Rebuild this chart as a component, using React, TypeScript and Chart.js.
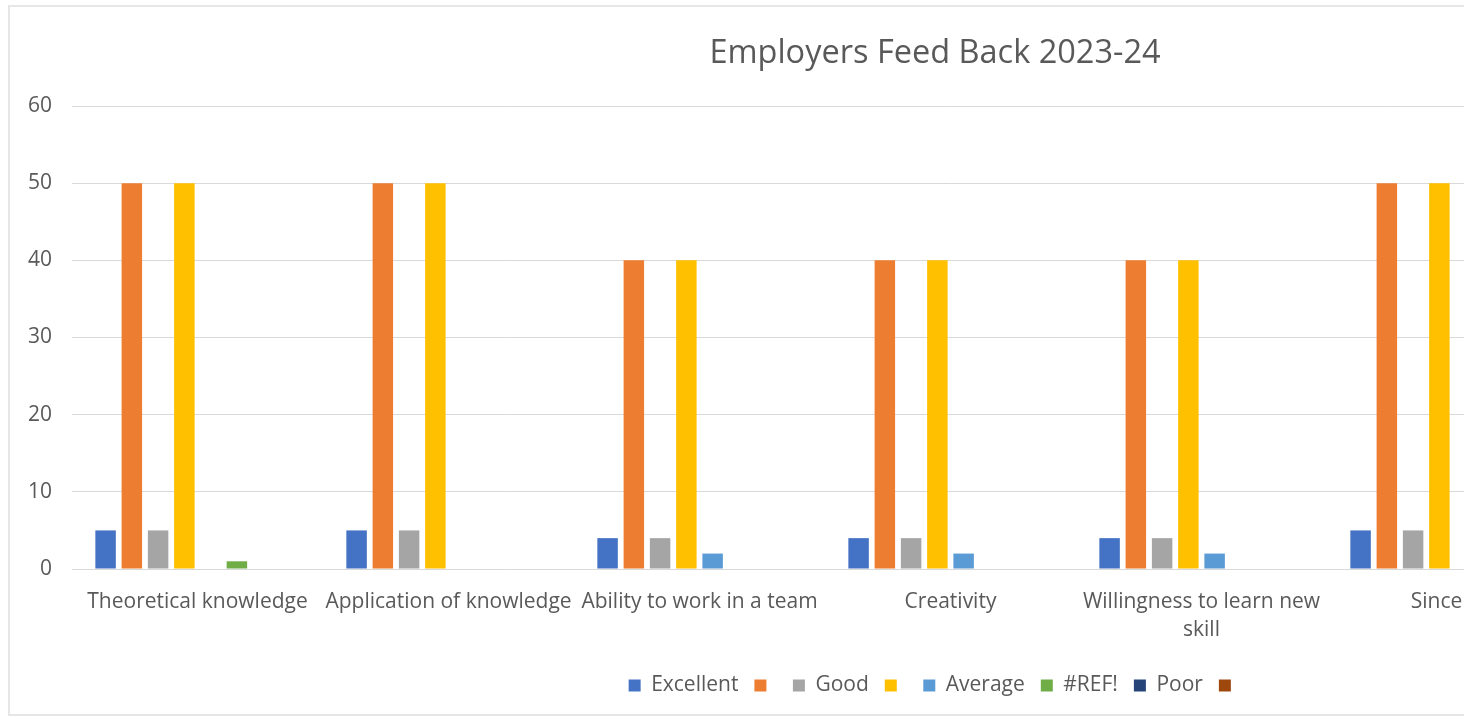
import React, { useEffect, useRef } from "react";
import { Chart, registerables } from "chart.js";

Chart.register(...registerables);

// ---- Data ----
const categories: (string | string[])[] = [
  "Theoretical knowledge",
  "Application of knowledge",
  "Ability to work in a team",
  "Creativity",
  ["Willingness to learn new", "skill"],
  "Sincerity",
  "Punctuality",
];

const seriesNames = ["Excellent", "", "Good", "", "Average", "#REF!", "Poor", ""];

const excellent = [5, 5, 4, 4, 4, 5, 5];
const seriesOrange = [50, 50, 40, 40, 40, 50, 50];
const good = [5, 5, 4, 4, 4, 5, 5];
const seriesYellow = [50, 50, 40, 40, 40, 50, 50];
const average = [0, 0, 2, 2, 2, 0, 0];
const refError = [1, 0, 0, 0, 0, 0, 0];
const poor = [0, 0, 0, 0, 0, 0, 0];
const seriesBrown = [0, 0, 0, 0, 0, 0, 0];

const yAxisMin = 0;
const yAxisMax = 60;
const yAxisStep = 10;

const chartTitle = "Employers Feed Back 2023-24";

// ---- Styles ----
const FONT = "'Open Sans', 'Noto Sans', sans-serif";
const TEXT = "#595959";
const COLORS = ["#4472C4", "#ED7D31", "#A5A5A5", "#FFC000", "#5B9BD5", "#70AD47", "#264478", "#9E480E"];

export default function App() {
  const ref = useRef<HTMLCanvasElement | null>(null);

  useEffect(() => {
    if (!ref.current) return;
    const values = [excellent, seriesOrange, good, seriesYellow, average, refError, poor, seriesBrown];
    const chart = new Chart(ref.current, {
      type: "bar",
      data: {
        labels: categories,
        datasets: values.map((v, i) => ({
          label: seriesNames[i],
          data: v,
          backgroundColor: COLORS[i],
          borderWidth: 0,
          categoryPercentage: 0.837,
          barPercentage: 0.78,
        })),
      },
      options: {
        responsive: false,
        animation: false,
        layout: { padding: { left: 31, right: 31, top: 0, bottom: 8 } },
        plugins: {
          title: {
            display: true,
            text: chartTitle,
            color: TEXT,
            font: { family: FONT, size: 32.5, weight: "normal", lineHeight: 1.2 },
            padding: { top: 27.5, bottom: 32.5 },
          },
          legend: {
            position: "bottom",
            labels: {
              boxWidth: 12,
              boxHeight: 12,
              padding: 16,
              color: TEXT,
              font: { family: FONT, size: 21 },
            },
          },
          tooltip: { enabled: false },
        },
        scales: {
          x: {
            grid: { display: false, drawTicks: false },
            border: { display: false },
            ticks: {
              color: TEXT,
              font: { family: FONT, size: 21, lineHeight: 1.3333 },
              padding: 19,
              maxRotation: 0,
              minRotation: 0,
              autoSkip: false,
            },
            afterFit: (s: any) => {
              s.height = 90;
            },
          },
          y: {
            min: yAxisMin,
            max: yAxisMax,
            ticks: {
              stepSize: yAxisStep,
              color: TEXT,
              font: { family: FONT, size: 21 },
              padding: 20,
            },
            grid: { color: "#d9d9d9", lineWidth: 1, drawTicks: false },
            border: { display: false },
            afterFit: (s: any) => {
              s.width = 31;
              // let the tick labels extend past the narrow axis box
              s._computeLabelArea = () => undefined;
            },
          },
        },
      },
    });
    return () => chart.destroy();
  }, []);

  return (
    <div
      style={{
        position: "fixed",
        left: 0,
        top: 0,
        width: 1464,
        height: 719,
        overflow: "hidden",
        background: "#ffffff",
      }}
    >
      <div
        style={{
          position: "absolute",
          left: 8,
          top: 5,
          width: 1854,
          height: 711,
          border: "2px solid #e6e6e6",
          boxSizing: "border-box",
        }}
      >
        <canvas ref={ref} width={1850} height={707} style={{ display: "block", width: 1850, height: 707 }} />
      </div>
    </div>
  );
}
